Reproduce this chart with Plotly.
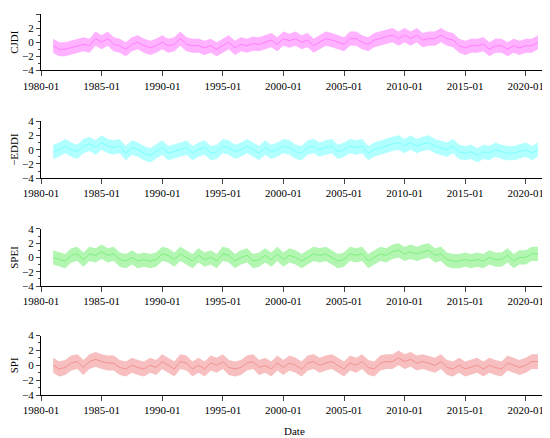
import pandas as pd
import plotly.graph_objects as go
from plotly.subplots import make_subplots

cjdi = [-0.5,-1,-1,-0.8,-0.5,-0.3,-0.5,0.5,0,0.5,-0.3,-0.5,-1,-0.3,0,-0.5,-0.8,-0.5,0,-0.5,-0.3,0.5,-0.3,-0.5,-0.5,-0.8,-0.5,-1,-0.5,0,-0.8,-0.3,-0.5,-0.2,-0.3,0,0.3,-0.3,0.5,0.2,0.5,0,0.3,-0.5,0,0.5,0.3,0,-0.3,0.5,0.5,0,-0.3,0.3,0.5,0.8,1,0.5,1,0.5,1,0.3,0.5,0.5,1,0.5,0.3,-0.5,-0.8,-0.5,-0.5,-0.3,-1,-0.5,-0.5,-1,-0.5,-0.8,-0.5,-0.5,0]
eddi = [-0.3,0,0.5,0,-0.3,0.5,0.8,0.3,1,0.5,0.3,0.5,-0.5,0.3,0,-0.5,-0.8,-0.3,0.3,-0.5,-0.3,0,0.3,-0.5,0,0.3,-0.5,-0.3,0.5,0.3,-0.3,0,0.5,0,-0.5,0.3,-0.3,0,0.5,0.3,-0.3,-0.5,0.3,0.5,0,0.3,0.5,-0.3,0,0.5,0.3,0.5,-0.5,0,0.3,0.5,0.8,1,0.5,1,0.5,0.8,1,0.5,0.3,0,0.5,-0.3,-0.5,-0.3,-0.8,-0.3,-0.5,0,-0.3,-0.5,-0.5,-0.3,0,-0.5,0]
spei = [0,-0.3,-0.5,0.3,0.5,-0.3,0.5,0.3,0.8,0.3,0.5,-0.3,-0.5,0,-0.5,-0.3,-0.5,-0.3,0.5,0.3,-0.3,0.5,0,-0.5,0.3,-0.3,0,-0.5,0.5,0.3,-0.5,0,0.3,-0.5,-0.3,0.3,-0.3,0.5,-0.3,0.3,0,-0.5,0,0.5,0.3,0.5,0,-0.5,-0.3,0.5,0.3,0.5,-0.5,0,0.5,0.3,0.8,1,0.5,0.8,0.5,0.8,1,0.3,0.5,-0.3,-0.5,-0.5,-0.3,-0.5,-0.3,-0.5,0,-0.3,-0.3,0.3,-0.5,0,0,0.5,0.5]
spi = [0,-0.5,-0.3,0.3,0.5,-0.3,0.5,0.8,0.5,0.3,0.3,-0.3,-0.5,0,-0.3,-0.5,0,-0.3,0.5,0,-0.5,0.5,0.3,-0.5,0,-0.5,0.3,0,0.5,-0.3,-0.5,-0.3,0.3,0.5,-0.3,0,-0.5,0.3,-0.3,0.3,0,-0.5,0.3,0.5,0,0.3,0.5,0,-0.5,0.3,0,0.5,-0.3,-0.5,0.3,0.5,0.5,1,0.5,0.8,0.3,0.5,0.3,0,0.5,-0.3,-0.5,0,-0.5,-0.3,0,-0.5,0,-0.3,-0.5,0.3,0,-0.3,0,0.5,0.5]
names = ["CJDI", "\u2212EDDI", "SPEI", "SPI"]
colors = ["255,102,255", "102,255,255", "102,238,102", "240,128,128"]
spread = 1.0

series = [cjdi, eddi, spei, spi]
domains = [[0.852, 1.0], [0.569, 0.719], [0.286, 0.436], [0.0, 0.156]]

fig = make_subplots(rows=4, cols=1)
for i, vals in enumerate(series):
    dates = pd.date_range("1981-01-01", periods=len(vals), freq="6MS")
    hi = [v + spread for v in vals]
    lo = [v - spread for v in vals]
    c = colors[i]
    fig.add_trace(go.Scatter(x=dates, y=hi, mode="lines", line=dict(width=0),
                             showlegend=False), row=i + 1, col=1)
    fig.add_trace(go.Scatter(x=dates, y=lo, mode="lines", line=dict(width=0),
                             fill="tonexty", fillcolor=f"rgba({c},0.5)",
                             showlegend=False), row=i + 1, col=1)
    fig.add_trace(go.Scatter(x=dates, y=vals, mode="lines",
                             line=dict(width=1, color=f"rgba({c},0.7)"),
                             showlegend=False), row=i + 1, col=1)
    fig.update_yaxes(domain=domains[i], title_text=names[i], range=[-4, 4], dtick=2,
                     ticks="outside", ticklen=4, automargin=False,
                     minor=dict(dtick=1, ticks="outside", ticklen=2),
                     showline=True, linecolor="black", showgrid=False, zeroline=False,
                     title_standoff=2, title_font=dict(size=11), row=i + 1, col=1)
    fig.update_xaxes(range=["1980-01-01", "2021-11-01"], tickformat="%Y-%m",
                     dtick="M60", tick0="1980-01-01", ticks="outside", automargin=False,
                     showline=True, linecolor="black", showgrid=False,
                     row=i + 1, col=1)

fig.add_annotation(text="Date", x=0.5, y=-0.115, xref="paper", yref="paper",
                   showarrow=False, font=dict(size=11))
fig.update_layout(width=546, height=432, margin=dict(l=33, r=6, t=6, b=45),
                  plot_bgcolor="white", paper_bgcolor="white",
                  font=dict(family="Liberation Serif", size=11, color="black"))
fig.write_html("out.html")
